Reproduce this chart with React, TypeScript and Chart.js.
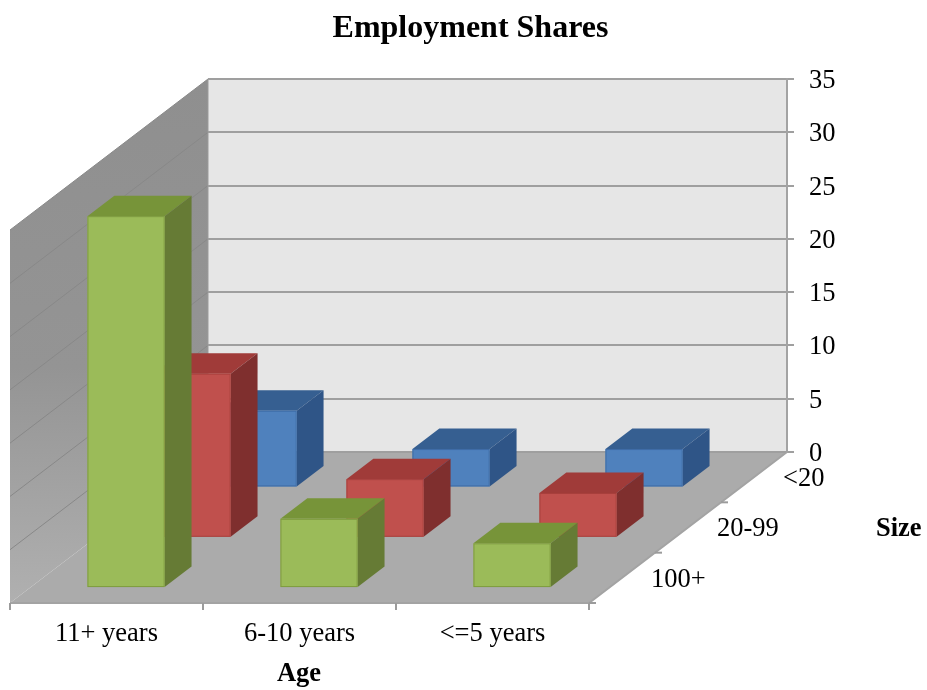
import React, { useEffect, useRef } from "react";
import { Chart, registerables } from "chart.js";

Chart.register(...registerables);

const ageLabels = ["11+ years", "6-10 years", "<=5 years"];
const sizeLabels = ["<20", "20-99", "100+"];
const largeFirms = [34.9, 6.5, 4.2];
const midFirms = [15.4, 5.5, 4.2];
const smallFirms = [7.2, 3.6, 3.6];

const SERIF = "'Liberation Serif', serif";
const WIDTH = 927;
const HEIGHT = 690;

// Oblique projection of the floor: a point at depth 0 sits on the back wall, depth 1 on the front edge.
const DEPTH_X = 198;
const DEPTH_Y = 151;
const BAR_DEPTH = 20.5 / 151;

type Faces = { front: string; top: string; side: string; edge: string };
const faces: Record<string, Faces> = {
  "<20": { front: "#4f81bd", top: "#365f91", side: "#2f5587", edge: "#3e6ca6" },
  "20-99": { front: "#c0504d", top: "#a03b39", side: "#7f2f2e", edge: "#a8403d" },
  "100+": { front: "#9bbb59", top: "#779439", side: "#667b35", edge: "#7e9b3f" },
};

function project(x: number, y: number, d: number) {
  return { x: x - DEPTH_X * d, y: y + DEPTH_Y * d };
}

function polygon(ctx: CanvasRenderingContext2D, pts: { x: number; y: number }[], fill: any) {
  ctx.beginPath();
  pts.forEach((p, i) => (i ? ctx.lineTo(p.x, p.y) : ctx.moveTo(p.x, p.y)));
  ctx.closePath();
  ctx.fillStyle = fill;
  ctx.fill();
}

const stage3d = {
  id: "stage3d",
  afterLayout(chart: any) {
    // The heading is centred slightly right of the canvas middle, independent of the plot's left inset.
    chart.titleBlock.left = 14;
    chart.titleBlock.right = WIDTH;
  },
  beforeDraw(chart: any) {
    const { ctx, chartArea: a } = chart;
    const y = chart.scales.y;
    const frontLeft = project(a.left, a.bottom, 1);
    const frontRight = project(a.right, a.bottom, 1);

    ctx.save();
    // Back wall
    ctx.fillStyle = "#e6e6e6";
    ctx.fillRect(a.left, a.top, a.right - a.left, a.bottom - a.top);

    // Side wall
    const shade = ctx.createLinearGradient(0, a.top, 0, frontLeft.y);
    shade.addColorStop(0, "#8f8f8f");
    shade.addColorStop(0.55, "#949494");
    shade.addColorStop(1, "#b0b0b0");
    polygon(
      ctx,
      [
        { x: a.left, y: a.top },
        { x: a.left, y: a.bottom },
        frontLeft,
        project(a.left, a.top, 1),
      ],
      shade
    );

    // Floor
    polygon(ctx, [{ x: a.left, y: a.bottom }, { x: a.right, y: a.bottom }, frontRight, frontLeft], "#ababab");

    // Gridlines running along the side wall
    ctx.strokeStyle = "#888888";
    ctx.lineWidth = 1;
    y.ticks.forEach((t: any) => {
      const py = y.getPixelForValue(t.value);
      if (t.value === 0) return;
      const end = project(a.left, py, 1);
      ctx.beginPath();
      ctx.moveTo(a.left, py);
      ctx.lineTo(end.x, end.y);
      ctx.stroke();
    });

    // Edges of the walls and floor
    ctx.strokeStyle = "#a3a3a3";
    ctx.lineWidth = 2;
    ctx.beginPath();
    ctx.moveTo(frontLeft.x, frontLeft.y);
    ctx.lineTo(frontRight.x, frontRight.y);
    ctx.lineTo(a.right, a.bottom);
    ctx.stroke();
    ctx.strokeStyle = "#9b9b9b";
    ctx.lineWidth = 1;
    ctx.beginPath();
    ctx.moveTo(a.left, a.top);
    ctx.lineTo(a.left, a.bottom);
    ctx.stroke();
    ctx.restore();
  },
  beforeDatasetDraw(chart: any, args: any) {
    const { ctx } = chart;
    const label = chart.data.datasets[args.index].label;
    const row = sizeLabels.indexOf(label);
    const style = faces[label];
    const near = (row + 0.5) / sizeLabels.length + BAR_DEPTH / 2;
    const far = near - BAR_DEPTH;

    ctx.save();
    args.meta.data.forEach((bar: any) => {
      const { x, y, base, width } = bar.getProps(["x", "y", "base", "width"], true);
      const x0 = x - width / 2;
      const x1 = x + width / 2;
      const fl = project(x0, y, near);
      const fr = project(x1, y, near);
      const frb = project(x1, base, near);
      const flb = project(x0, base, near);
      const bl = project(x0, y, far);
      const br = project(x1, y, far);
      const brb = project(x1, base, far);
      polygon(ctx, [fl, fr, br, bl], style.top);
      polygon(ctx, [fr, frb, brb, br], style.side);
      polygon(ctx, [fl, fr, frb, flb], style.front);
      ctx.strokeStyle = style.edge;
      ctx.lineWidth = 1;
      ctx.strokeRect(fl.x + 0.5, fl.y + 0.5, fr.x - fl.x - 1, flb.y - fl.y - 1);
    });
    ctx.restore();
    return false;
  },
  afterDraw(chart: any) {
    const { ctx, chartArea: a } = chart;
    const xs = chart.scales.x;
    const font = `26.5px ${SERIF}`;
    const bold = `bold 26.5px ${SERIF}`;
    const frontY = a.bottom + DEPTH_Y;

    ctx.save();
    ctx.fillStyle = "#000";
    ctx.textBaseline = "middle";
    ctx.strokeStyle = "#9b9b9b";
    ctx.lineWidth = 2;

    // Age axis along the front edge
    const ages = xs.getLabels();
    const step = (a.right - a.left) / ages.length;
    for (let i = 0; i <= ages.length; i++) {
      const px = a.left - DEPTH_X + step * i;
      ctx.beginPath();
      ctx.moveTo(px, frontY);
      ctx.lineTo(px, frontY + 7);
      ctx.stroke();
    }
    ctx.font = font;
    ctx.textAlign = "center";
    ages.forEach((name: string, i: number) => {
      ctx.fillText(name, xs.getPixelForValue(i) - DEPTH_X, frontY + 31);
    });
    ctx.font = bold;
    ctx.fillText("Age", 299, frontY + 71);

    // Size axis along the right edge of the floor
    for (let i = 1; i <= sizeLabels.length; i++) {
      const p = project(a.right, a.bottom, i / sizeLabels.length);
      ctx.beginPath();
      ctx.moveTo(p.x, p.y);
      ctx.lineTo(p.x + 7, p.y);
      ctx.stroke();
    }
    ctx.font = font;
    ctx.textAlign = "left";
    sizeLabels.forEach((name, i) => {
      const p = project(a.right, a.bottom, (i + 0.5) / sizeLabels.length);
      ctx.fillText(name, p.x + 29, p.y + 2);
    });
    ctx.font = bold;
    ctx.fillText("Size", 876, a.bottom + DEPTH_Y * 0.5 + 2);
    ctx.restore();
  },
};

export default function App() {
  const ref = useRef<HTMLCanvasElement>(null);

  useEffect(() => {
    const chart = new Chart(ref.current!, {
      type: "bar",
      data: {
        labels: ageLabels,
        datasets: [
          { label: "100+", data: largeFirms },
          { label: "20-99", data: midFirms },
          { label: "<20", data: smallFirms },
        ],
      },
      options: {
        responsive: false,
        animation: false,
        events: [],
        layout: { padding: { left: 208, right: 0, top: 0, bottom: 238 } },
        datasets: { bar: { grouped: false, barPercentage: 0.4, categoryPercentage: 1 } },
        plugins: {
          legend: { display: false },
          tooltip: { enabled: false },
          title: {
            display: true,
            text: "Employment Shares",
            color: "#000",
            font: { family: SERIF, size: 32, weight: "bold" },
            padding: { top: 10, bottom: 30.6 },
          },
        },
        scales: {
          x: { display: false, type: "category" },
          y: {
            position: "right",
            min: 0,
            max: 35,
            afterFit(scale: any) {
              scale.width = 140;
            },
            border: { display: true, color: "#a3a3a3", width: 2 },
            grid: { color: "#9f9f9f", lineWidth: 2, tickLength: 7 },
            ticks: {
              stepSize: 5,
              color: "#000",
              padding: 15,
              labelOffset: 2,
              font: { family: SERIF, size: 26.5 },
            },
          },
        },
      },
      plugins: [stage3d],
    } as any);
    return () => chart.destroy();
  }, []);

  return (
    <div style={{ position: "fixed", left: 0, top: 0, width: WIDTH, height: HEIGHT, background: "#fff" }}>
      <canvas ref={ref} width={WIDTH} height={HEIGHT} style={{ display: "block" }} />
    </div>
  );
}
